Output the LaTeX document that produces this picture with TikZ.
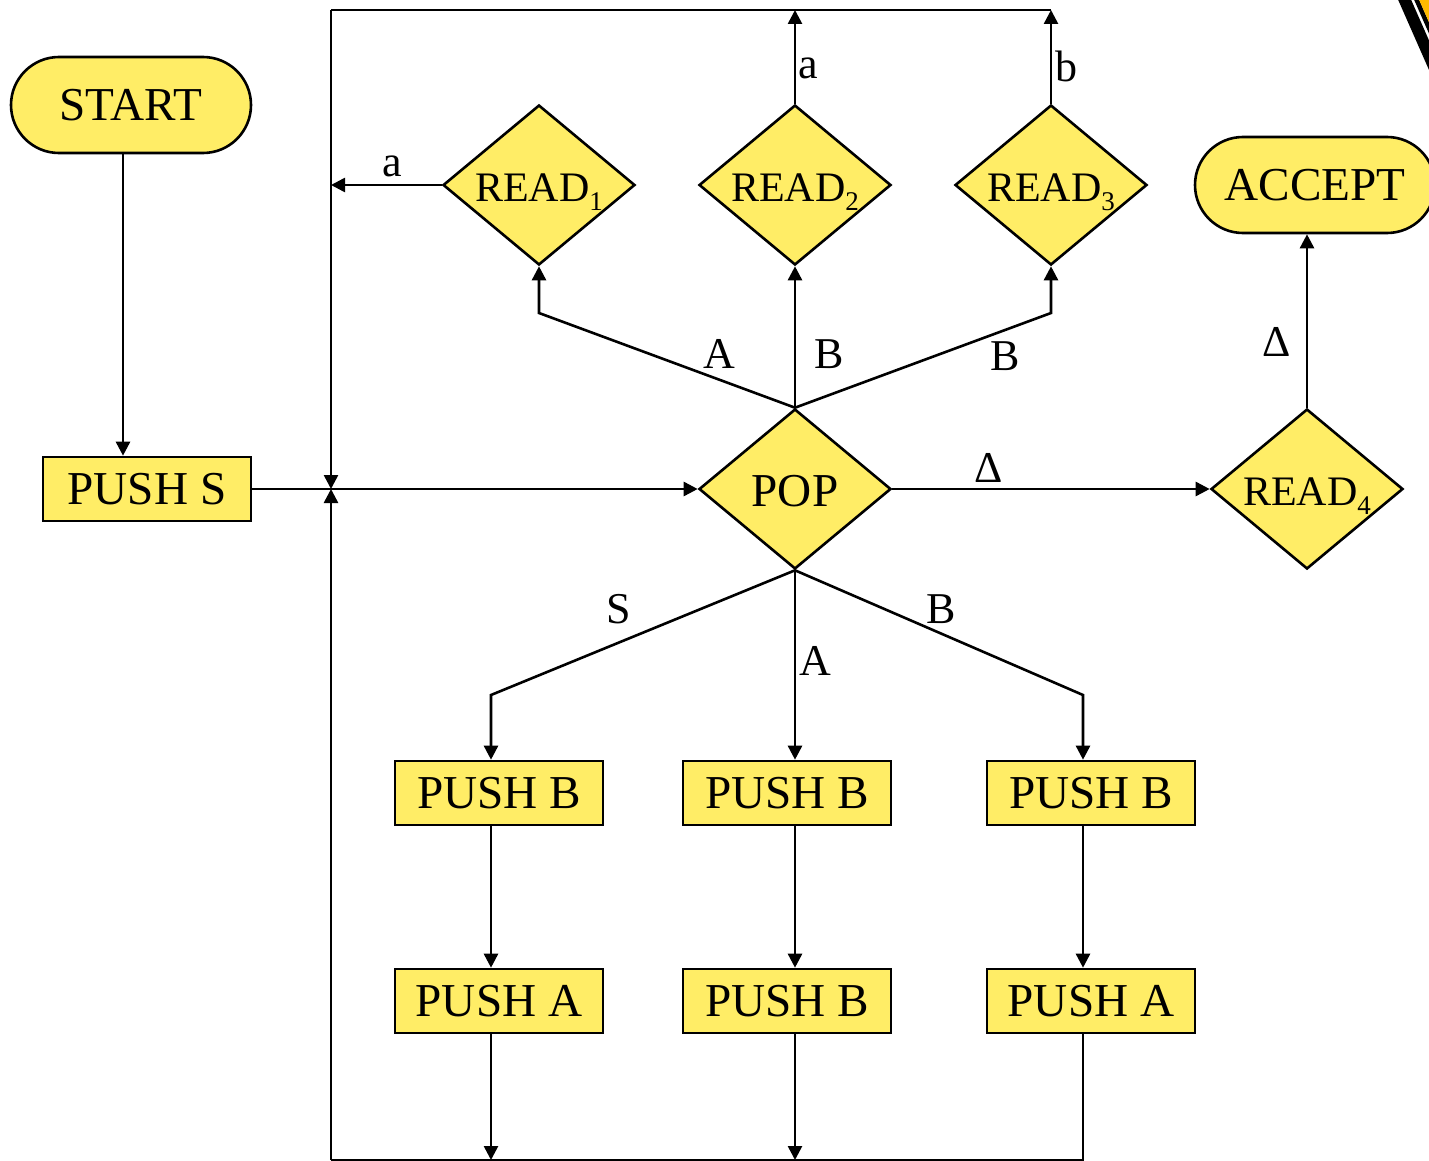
\documentclass[tikz,border=0pt]{standalone}
\usepackage{fontspec}
\setmainfont{Liberation Serif}
\usetikzlibrary{shapes.geometric,arrows.meta}
\definecolor{boxfill}{RGB}{255,237,102}
\definecolor{logoamber}{RGB}{255,186,0}
\newcommand\lowidx[1]{\raisebox{-4.5pt}{\fontsize{13.5}{14}\selectfont #1}}
% text set on a fixed baseline below the centre of a diamond
\newcommand\ontest[2]{\makebox[0pt]{\raisebox{-#1}[0pt][0pt]{#2}}}

\begin{document}
\begin{tikzpicture}[x=0.5pt,y=-0.5pt,
  stackbox/.style={draw,line width=1.3pt,fill=boxfill,minimum width=104pt,minimum height=32pt,
    inner sep=0pt,font=\fontsize{23.6}{24}\selectfont},
  termbox/.style={draw,line width=1.3pt,fill=boxfill,rounded corners=24pt,minimum width=120pt,
    minimum height=48pt,inner sep=0pt,font=\fontsize{23.6}{24}\selectfont},
  testbox/.style={diamond,draw,line width=1.3pt,fill=boxfill,minimum width=96pt,minimum height=80pt,
    inner sep=0pt,font=\fontsize{21}{22}\selectfont},
  flow/.style={line width=1.3pt,-{Triangle[length=7pt,width=7pt]}},
  plain/.style={line width=1.3pt},
  lbl/.style={font=\fontsize{22}{22}\selectfont,inner sep=0pt}]
\useasboundingbox (0,0) rectangle (1429,1161);

% corner emblem
\begin{scope}
\clip (0,0) rectangle (1429,1161);
\fill[black] (1396,-5) -- (1409,-5) -- (1453,95) -- (1440,95) -- cycle;
\fill[black] (1412,-5) -- (1417,-5) -- (1461,95) -- (1456,95) -- cycle;
\fill[logoamber] (1417,-5) -- (1445,-5) -- (1489,95) -- (1461,95) -- cycle;
\end{scope}

% terminals
\node[termbox] (start) at (131,105) {START};
\node[termbox] (accept) at (1315,185) {ACCEPT};

% stack operations
\node[stackbox] (pushS) at (147,489) {PUSH S};
\node[stackbox] (b1) at (499,793) {PUSH B};
\node[stackbox] (b2) at (787,793) {PUSH B};
\node[stackbox] (b3) at (1091,793) {PUSH B};
\node[stackbox] (c1) at (499,1001) {PUSH A};
\node[stackbox] (c2) at (787,1001) {PUSH B};
\node[stackbox] (c3) at (1091,1001) {PUSH A};

% decisions
\node[testbox] (r1) at (539,185) {\ontest{8pt}{READ\lowidx{1}}};
\node[testbox] (r2) at (795,185) {\ontest{8pt}{READ\lowidx{2}}};
\node[testbox] (r3) at (1051,185) {\ontest{8pt}{READ\lowidx{3}}};
\node[testbox] (r4) at (1307,489) {\ontest{8pt}{READ\lowidx{4}}};
\node[testbox,font=\fontsize{23.6}{24}\selectfont] (pop) at (795,489) {\ontest{8.5pt}{POP}};

% routing points
\coordinate (tl) at (331,10);
\coordinate (bl) at (331,1160);
\coordinate (J) at (331,489);
\coordinate (xs) at (123,0);
\coordinate (kA1) at (539,313);
\coordinate (kA3) at (1051,313);
\coordinate (kL) at (491,695);
\coordinate (kR) at (1083,695);

% main loop
\draw[flow] (start.south -| xs) -- (pushS.north -| xs);
\draw[flow] (pushS.east) -- (pop.west);
\draw[plain] (r3.north |- tl) -- (tl);
\draw[flow] (tl) -- (J);
\draw[flow] (bl) -- (J);

% reads back to the loop
\draw[flow] (r1.west) -- (r1.west -| tl);
\draw[flow] (r2.north) -- (r2.north |- tl);
\draw[flow] (r3.north) -- (r3.north |- tl);

% pop to reads
\draw[flow] (pop.north) -- (kA1) -- (r1.south);
\draw[flow] (pop.north) -- (r2.south);
\draw[flow] (pop.north) -- (kA3) -- (r3.south);
\draw[flow] (pop.east) -- (r4.west);
\draw[flow] (r4.north) -- (accept.south -| r4.north);

% pop to pushes
\draw[flow] (pop.south) -- (kL) -- (kL |- b1.north);
\draw[flow] (pop.south) -- (pop.south |- b2.north);
\draw[flow] (pop.south) -- (kR) -- (kR |- b3.north);
\draw[flow] (kL |- b1.south) -- (kL |- c1.north);
\draw[flow] (pop.south |- b2.south) -- (pop.south |- c2.north);
\draw[flow] (kR |- b3.south) -- (kR |- c3.north);
\draw[flow] (kL |- c1.south) -- (kL |- bl);
\draw[flow] (pop.south |- c2.south) -- (pop.south |- bl);
\draw[plain] (kR |- c3.south) -- (kR |- bl) -- (bl);

% edge labels
\node[lbl] (la1) at (392,166) {a};
\node[lbl] (la2) at (808,68) {a};
\node[lbl] (lb3) at (1066,66) {b};
\node[lbl] (lA) at (719,354) {A};
\node[lbl] (lB2) at (829,354) {B};
\node[lbl] (lB3) at (1005,356) {B};
\node[lbl] (lD1) at (989,468) {Δ};
\node[lbl] (lD2) at (1277,342) {Δ};
\node[lbl] (lS) at (619,609) {S};
\node[lbl] (lA2) at (815,661) {A};
\node[lbl] (lB4) at (941,609) {B};
\end{tikzpicture}
\end{document}
